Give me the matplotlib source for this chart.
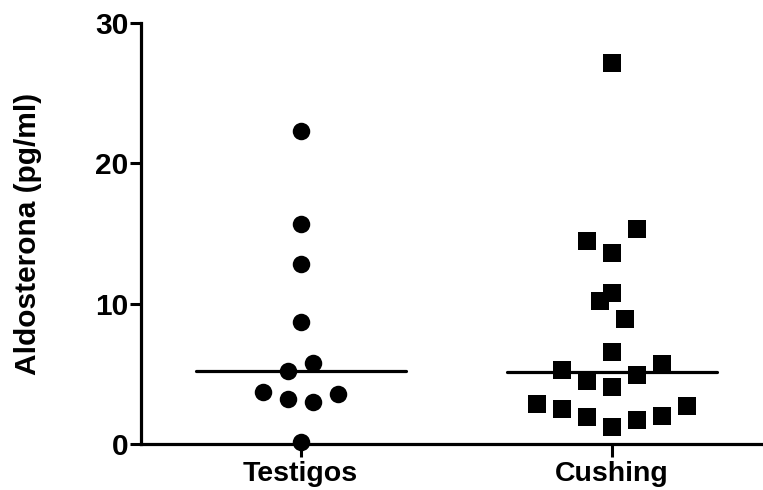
import numpy as np
import matplotlib
matplotlib.use('Agg')
import matplotlib.pyplot as plt

plt.rcParams['font.family'] = ['Liberation Sans', 'DejaVu Sans']
plt.rcParams['font.weight'] = 'bold'

# values (pg/ml)
groups = ['Testigos', 'Cushing']
testigos = [22.3, 15.7, 12.8, 8.68, 5.76, 5.24, 3.72, 3.58, 3.22, 3.01, 0.14]
cushing = [27.16, 15.32, 14.45, 13.64, 10.79, 10.18, 8.94, 6.59, 5.72, 5.31,
           4.91, 4.53, 4.10, 2.85, 2.75, 2.51, 2.01, 1.96, 1.73, 1.23]
markers = ['o', 's']


def swarm(values, row_h=1.7, step=0.08):
    # points close in value share a row and get spread sideways
    values = np.asarray(values)
    idx = np.argsort(values)
    offs = np.zeros(len(values))
    sign = 1
    i = 0
    while i < len(idx):
        start = values[idx[i]]
        row = [j for j in idx[i:] if values[j] - start <= row_h]
        k = len(row)
        if k > 1:
            if k % 2:
                slots = [0] + [s * m for m in range(1, k) for s in (1, -1)]
            else:
                slots = [s * (m + 0.5) for m in range(k) for s in (1, -1)]
            for j, sl in zip(row, slots[:k]):
                offs[j] = sign * sl * step
            sign = -sign
        i += k
    return offs


fig = plt.figure(figsize=(7.63, 4.90), dpi=100)
ax = fig.add_axes([140.5 / 763, 45.7 / 490, 622.5 / 763, 421.6 / 490])

for i, vals in enumerate([testigos, cushing]):
    x = i + swarm(vals)
    ax.plot(x, vals, markers[i], color='black', ms=12.6, mew=0,
            clip_on=False, zorder=3)
    med = np.median(vals)
    ax.plot([i - 0.337, i + 0.337], [med, med], color='black', lw=2.3,
            solid_capstyle='round', zorder=2)

ax.set_xlim(-0.514, 1.484)
ax.set_ylim(0, 30)
ax.set_xticks([0, 1])
ax.set_xticklabels(groups, fontsize=20.5, fontweight='bold')
ax.set_yticks([0, 10, 20, 30])
ax.tick_params(axis='y', width=2.2, length=8, pad=0.5, labelsize=21.5)
ax.tick_params(axis='x', width=2.2, length=9, pad=3, labelsize=20.5)

for s in ['top', 'right']:
    ax.spines[s].set_visible(False)
for s in ['left', 'bottom']:
    ax.spines[s].set_linewidth(2.3)

ax.set_ylabel('Aldosterona (pg/ml)', fontsize=21.5, fontweight='bold')
ax.yaxis.set_label_coords(-0.158, 0.5)

plt.savefig('out.png', dpi=100)
